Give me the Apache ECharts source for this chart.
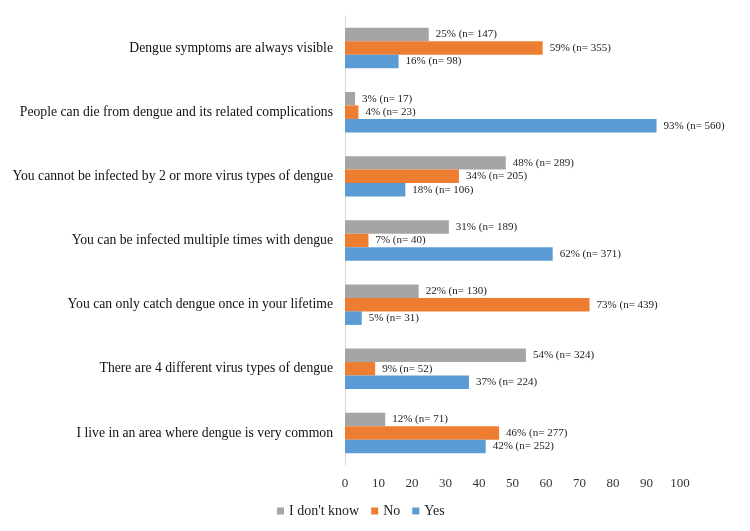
<!DOCTYPE html>
<html lang="en">
<head>
<meta charset="UTF-8">
<script src="https://cdn.jsdelivr.net/npm/echarts/dist/echarts.min.js"></script>
<title>Dengue knowledge</title>
<style>
    html, body { margin: 0; padding: 0; background: #fff; }
    #chart { width: 750px; height: 531px; }
</style>
</head>
<body>
<div id="chart"></div>
<script>
// categories listed bottom to top (ECharts category y-axis starts at the bottom)
const categories = [
    'I live in an area where dengue is very common',
    'There are 4 different virus types of dengue',
    'You can only catch dengue once in your lifetime',
    'You can be infected multiple times with dengue',
    'You cannot be infected by 2 or more virus types of dengue',
    'People can die from dengue and its related complications',
    'Dengue symptoms are always visible'
];
const yesPct = [42, 37, 5, 62, 18, 93, 16];
const yesN = [252, 224, 31, 371, 106, 560, 98];
const noPct = [46, 9, 73, 7, 34, 4, 59];
const noN = [277, 52, 439, 40, 205, 23, 355];
const idkPct = [12, 54, 22, 31, 48, 3, 25];
const idkN = [71, 324, 130, 189, 289, 17, 147];

const font = 'Liberation Serif';

function makeSeries(name, pct, counts, color) {
    return {
        name: name,
        type: 'bar',
        data: pct,
        barGap: '0%',
        barCategoryGap: '37%',
        itemStyle: { color: color },
        label: {
            show: true,
            position: 'right',
            distance: 7,
            color: '#222',
            fontFamily: font,
            fontSize: 11,
            formatter: p => p.value + '% (n= ' + counts[p.dataIndex] + ')'
        }
    };
}

const chart = echarts.init(document.getElementById('chart'));
chart.setOption({
    animation: false,
    textStyle: { fontFamily: font },
    grid: { left: 345, right: 70, top: 16, bottom: 66, containLabel: false },
    legend: {
        data: ["I don't know", 'No', 'Yes'],
        bottom: 8,
        left: 272,
        itemWidth: 7,
        itemHeight: 7,
        itemGap: 12,
        icon: 'rect',
        textStyle: { fontFamily: font, fontSize: 14, color: '#222' }
    },
    xAxis: {
        type: 'value',
        min: 0,
        max: 100,
        interval: 10,
        axisLine: { show: false },
        axisTick: { show: false },
        splitLine: { show: false },
        axisLabel: { color: '#333', fontFamily: font, fontSize: 13, margin: 12 }
    },
    yAxis: {
        type: 'category',
        data: categories,
        axisLine: { show: true, lineStyle: { color: '#d9d9d9', width: 1 } },
        axisTick: { show: false },
        axisLabel: { color: '#111', fontFamily: font, fontSize: 13.7, margin: 12 }
    },
    // within a group ECharts draws the first series on top
    series: [
        makeSeries("I don't know", idkPct, idkN, '#A5A5A5'),
        makeSeries('No', noPct, noN, '#ED7D31'),
        makeSeries('Yes', yesPct, yesN, '#5B9BD5')
    ]
});
</script>
</body>
</html>
